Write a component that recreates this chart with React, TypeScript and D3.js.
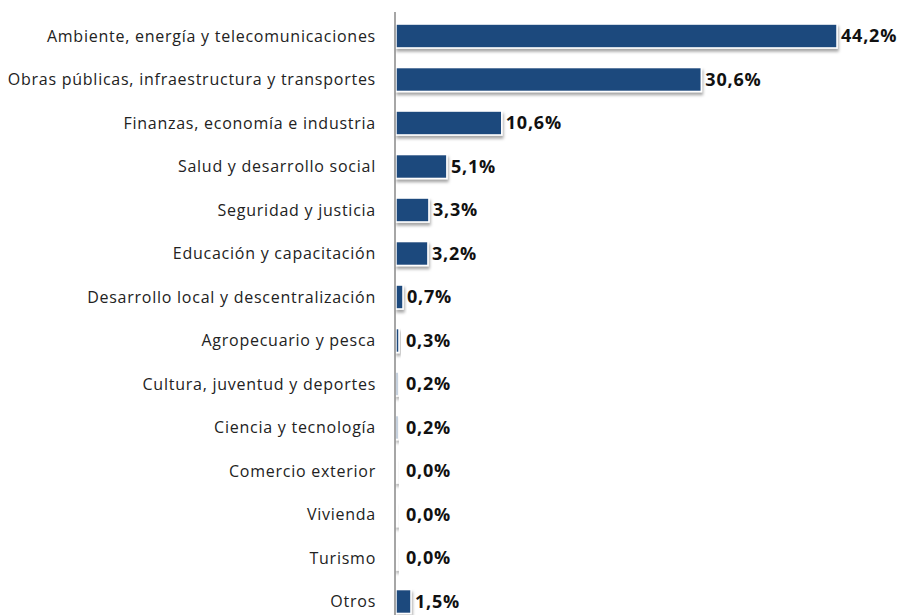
import { useEffect, useRef } from 'react';
import * as d3 from 'd3';

const categories = [
  'Ambiente, energía y telecomunicaciones',
  'Obras públicas, infraestructura y transportes',
  'Finanzas, economía e industria',
  'Salud y desarrollo social',
  'Seguridad y justicia',
  'Educación y capacitación',
  'Desarrollo local y descentralización',
  'Agropecuario y pesca',
  'Cultura, juventud y deportes',
  'Ciencia y tecnología',
  'Comercio exterior',
  'Vivienda',
  'Turismo',
  'Otros',
];
const values = [44.2, 30.6, 10.6, 5.1, 3.3, 3.2, 0.7, 0.3, 0.2, 0.2, 0.0, 0.0, 0.0, 1.5];

const width = 902;
const height = 615;
const barColor = '#1f497d';

export default function App() {
  const ref = useRef<SVGSVGElement>(null);

  useEffect(() => {
    document.body.style.margin = '0';
    const svg = d3.select(ref.current);
    svg.selectAll('*').remove();

    const data = categories.map((c, i) => ({ cat: c, value: values[i] }));
    const axisX = 395;

    const x = d3.scaleLinear().domain([0, 44.2]).range([axisX, 836]);
    const y = d3
      .scaleBand()
      .domain(categories)
      .range([14.25, 623.25])
      .paddingInner(0.45)
      .paddingOuter(0.225);

    const defs = svg.append('defs');
    const filter = defs
      .append('filter')
      .attr('id', 'shadow')
      .attr('x', '-50%')
      .attr('y', '-20%')
      .attr('width', '200%')
      .attr('height', '160%');
    filter
      .append('feDropShadow')
      .attr('dx', 1)
      .attr('dy', 3)
      .attr('stdDeviation', 1.5)
      .attr('flood-color', '#000')
      .attr('flood-opacity', 0.35);

    // bars
    svg
      .append('g')
      .selectAll('rect')
      .data(data)
      .enter()
      .append('rect')
      .attr('x', x(0) + 1)
      .attr('y', d => y(d.cat))
      .attr('width', d => Math.max(x(d.value) - x(0), 2))
      .attr('height', y.bandwidth())
      .attr('fill', d => (d.value > 0 ? barColor : '#fff'))
      .attr('stroke', '#fff')
      .attr('stroke-width', 1.5)
      .attr('filter', 'url(#shadow)');

    // axis line
    svg
      .append('line')
      .attr('x1', axisX)
      .attr('x2', axisX)
      .attr('y1', 12)
      .attr('y2', height)
      .attr('stroke', '#888')
      .attr('stroke-width', 1.5);

    // category labels
    svg
      .append('g')
      .selectAll('text')
      .data(data)
      .enter()
      .append('text')
      .attr('x', 376)
      .attr('y', d => y(d.cat) + y.bandwidth() / 2)
      .attr('dy', '0.35em')
      .attr('text-anchor', 'end')
      .style('font-family', 'Open Sans')
      .style('font-size', '16px')
      .style('letter-spacing', '0.75px')
      .style('fill', '#222')
      .text(d => d.cat);

    // value labels
    svg
      .append('g')
      .selectAll('text')
      .data(data)
      .enter()
      .append('text')
      .attr('x', d => Math.max(x(d.value), x(0) + 6) + 5)
      .attr('y', d => y(d.cat) + y.bandwidth() / 2)
      .attr('dy', '0.36em')
      .style('font-family', 'Open Sans')
      .style('font-weight', 'bold')
      .style('font-size', '18px')
      .style('letter-spacing', '0.8px')
      .style('fill', '#111')
      .text(d => d.value.toFixed(1).replace('.', ',') + '%');
  }, []);

  return <svg ref={ref} width={width} height={height} style={{ display: 'block', background: '#fff' }} />;
}
